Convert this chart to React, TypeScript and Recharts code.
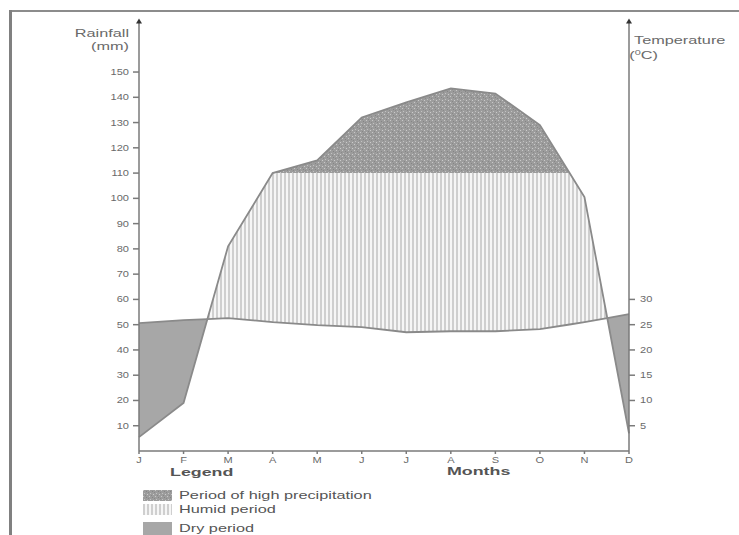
import React from 'react';
import { ComposedChart, Area, Line, XAxis, YAxis } from 'recharts';

const MONTHS = ['J', 'F', 'M', 'A', 'M', 'J', 'J', 'A', 'S', 'O', 'N', 'D'];
const RAINFALL = [5.5, 19, 81, 110, 115, 132, 138, 143.5, 141.5, 129, 100.5, 7];
const TEMPERATURE = [25.3, 25.9, 26.3, 25.5, 24.9, 24.5, 23.5, 23.7, 23.7, 24.1, 25.5, 27.1];
const RAIN_TICKS = [10, 20, 30, 40, 50, 60, 70, 80, 90, 100, 110, 120, 130, 140, 150];
const TEMP_TICKS = [5, 10, 15, 20, 25, 30];
const HIGH_PRECIP = 110; // rainfall above this is "high precipitation"

const FONT = '"Liberation Sans", Arial, sans-serif';
const LINE = '#8a8a8a';
const AXIS = '#7a7a7a';
const TEXT = '#6a6a6a';
const STRETCH = 1.55; // the scanned lettering is wide

// one row per month plus the points where the curves cross, so the fills
// can switch between dry / humid / high precipitation along the lines
const makeRow = (m: number, rain: number, temp: number) => {
  const t2 = temp * 2;
  return {
    m,
    rain,
    temp,
    dry: [rain, Math.max(rain, t2)],
    humid: [t2, Math.max(t2, Math.min(rain, HIGH_PRECIP))],
    high: [HIGH_PRECIP, Math.max(HIGH_PRECIP, rain)]
  };
};

const buildRows = () => {
  const rows = [];
  for (let i = 0; i < MONTHS.length; i++) {
    rows.push(makeRow(i, RAINFALL[i], TEMPERATURE[i]));
    if (i === MONTHS.length - 1) break;
    const r0 = RAINFALL[i], r1 = RAINFALL[i + 1];
    const a0 = TEMPERATURE[i], a1 = TEMPERATURE[i + 1];
    const cuts: number[] = [];
    const f0 = r0 - 2 * a0, f1 = r1 - 2 * a1;
    if (f0 * f1 < 0) cuts.push(f0 / (f0 - f1));
    const g0 = r0 - HIGH_PRECIP, g1 = r1 - HIGH_PRECIP;
    if (g0 * g1 < 0) cuts.push(g0 / (g0 - g1));
    cuts.sort((a, b) => a - b).forEach((t) => {
      rows.push(makeRow(i + t, r0 + (r1 - r0) * t, a0 + (a1 - a0) * t));
    });
  }
  return rows;
};

const rows = buildRows();

const ArrowHead = ({ viewBox, side }: any) => {
  if (!viewBox) return null;
  const x = side === 'left' ? viewBox.x + viewBox.width : viewBox.x;
  const y = viewBox.y;
  return <polygon points={`${x - 3},${y + 2} ${x + 3},${y + 2} ${x},${y - 3}`} fill="#333" />;
};

// tick text drawn a little wider, like the original lettering
const WideTick = ({ x, y, payload, anchor, dx = 0, dy = 0, format }: any) => (
  <text
    transform={`translate(${x + dx},${y + dy}) scale(1.3,1)`}
    textAnchor={anchor}
    dominantBaseline="central"
    fontSize={8.5}
    fill={TEXT}
    fontFamily={FONT}
  >
    {format ? format(payload.value) : payload.value}
  </text>
);

const Swatch = ({ fill, height = 11 }: { fill: string; height?: number }) => (
  <svg width={29} height={height} style={{ display: 'block' }}>
    <rect x={0} y={0} width={29} height={height} fill={fill} />
  </svg>
);

const Patterns = () => (
  <defs>
    <pattern id="stripes" width={4} height={8} patternUnits="userSpaceOnUse">
      <rect width={4} height={8} fill="#f6f6f6" />
      <line x1={1} y1={0} x2={1} y2={8} stroke="#bfbfbf" strokeWidth={1.4} />
    </pattern>
    <pattern id="stipple" width={6} height={6} patternUnits="userSpaceOnUse">
      <rect width={6} height={6} fill="#9c9c9c" />
      <rect x={0} y={0} width={1} height={1} fill="#c8c8c8" />
      <rect x={3} y={1} width={1} height={1} fill="#858585" />
      <rect x={1} y={3} width={1} height={1} fill="#c2c2c2" />
      <rect x={4} y={4} width={1} height={1} fill="#cbcbcb" />
      <rect x={5} y={2} width={1} height={1} fill="#8a8a8a" />
      <rect x={2} y={5} width={1} height={1} fill="#888" />
    </pattern>
  </defs>
);

const wide = (origin: string): React.CSSProperties => ({
  transform: `scaleX(${STRETCH})`,
  transformOrigin: origin,
  whiteSpace: 'nowrap'
});

const App: React.FC = () => {
  return (
    <div style={{ position: 'absolute', left: 0, top: 0, width: 739, height: 535, background: '#fff', fontFamily: FONT, overflow: 'hidden' }}>
      {/* frame */}
      <div style={{ position: 'absolute', left: 9, top: 10, width: 730, height: 2, background: '#8c8c8c' }} />
      <div style={{ position: 'absolute', left: 9, top: 10, width: 3, height: 525, background: '#808080' }} />

      <div style={{ position: 'absolute', left: 0, top: 0 }}>
        <ComposedChart width={739} height={535} data={rows} margin={{ top: 21.5, right: 0, bottom: 54, left: 0 }}>
          <Patterns />
          <XAxis
            dataKey="m"
            type="number"
            domain={[0, 11]}
            ticks={MONTHS.map((_, i) => i)}
            height={30}
            stroke={AXIS}
            strokeWidth={1.5}
            tickSize={3}
            tick={<WideTick anchor="middle" dy={4} format={(v: number) => MONTHS[v]} />}
            interval={0}
          />
          <YAxis
            yAxisId="rain"
            orientation="left"
            width={139}
            domain={[0, 170]}
            ticks={RAIN_TICKS}
            stroke={AXIS}
            strokeWidth={1.5}
            tickSize={6}
            tick={<WideTick anchor="end" dx={-2} />}
            interval={0}
            label={{ content: (p: any) => <ArrowHead {...p} side="left" /> }}
          />
          <YAxis
            yAxisId="temp"
            orientation="right"
            width={110}
            domain={[0, 85]}
            ticks={TEMP_TICKS}
            stroke={AXIS}
            strokeWidth={1.5}
            tickSize={6}
            tick={<WideTick anchor="start" dx={3} />}
            interval={0}
            label={{ content: (p: any) => <ArrowHead {...p} side="right" /> }}
          />
          <Area yAxisId="rain" type="linear" dataKey="high" fill="url(#stipple)" fillOpacity={1} stroke="none" isAnimationActive={false} />
          <Area yAxisId="rain" type="linear" dataKey="humid" fill="url(#stripes)" fillOpacity={1} stroke="none" isAnimationActive={false} />
          <Area yAxisId="rain" type="linear" dataKey="dry" fill="#a7a7a7" fillOpacity={1} stroke="none" isAnimationActive={false} />
          <Line yAxisId="temp" type="linear" dataKey="temp" stroke={LINE} strokeWidth={1.8} dot={false} isAnimationActive={false} />
          <Line yAxisId="rain" type="linear" dataKey="rain" stroke={LINE} strokeWidth={1.8} dot={false} isAnimationActive={false} />
        </ComposedChart>
      </div>

      {/* axis titles */}
      <div style={{ position: 'absolute', right: 739 - 129, top: 27, fontSize: 10.5, color: TEXT, textAlign: 'right', lineHeight: '13px', ...wide('right') }}>
        Rainfall<br />(mm)
      </div>
      <div style={{ position: 'absolute', left: 634, top: 34, fontSize: 10.5, color: TEXT, lineHeight: '12px', ...wide('left') }}>
        Temperature<br />
        <span style={{ marginLeft: -3 }}>(<sup style={{ fontSize: 7 }}>0</sup>C)</span>
      </div>
      <div style={{ position: 'absolute', left: 447, top: 465, fontSize: 11.5, fontWeight: 'bold', color: '#555', ...wide('left') }}>Months</div>
      <div style={{ position: 'absolute', left: 170, top: 466, fontSize: 11.5, fontWeight: 'bold', color: '#555', ...wide('left') }}>Legend</div>

      {/* legend */}
      <div style={{ position: 'absolute', left: 143, top: 489, fontSize: 10.5, color: '#555' }}>
        <div style={{ display: 'flex', alignItems: 'center', height: 12 }}>
          <Swatch fill="url(#stipple)" />
          <span style={{ marginLeft: 7, ...wide('left') }}>Period of high precipitation</span>
        </div>
        <div style={{ display: 'flex', alignItems: 'center', height: 12, marginTop: 2 }}>
          <Swatch fill="url(#stripes)" />
          <span style={{ marginLeft: 7, ...wide('left') }}>Humid period</span>
        </div>
        <div style={{ display: 'flex', alignItems: 'center', height: 14, marginTop: 6 }}>
          <Swatch fill="#a7a7a7" height={13} />
          <span style={{ marginLeft: 7, ...wide('left') }}>Dry period</span>
        </div>
      </div>
    </div>
  );
};

export default App;
